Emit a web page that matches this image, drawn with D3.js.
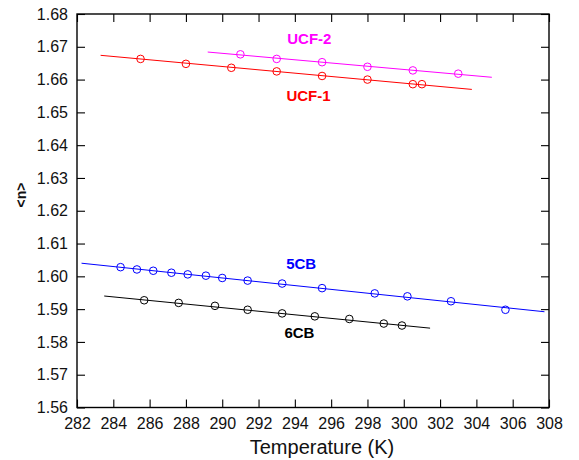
<!DOCTYPE html>
<html>
<head>
<meta charset="utf-8">
<script src="https://cdn.jsdelivr.net/npm/d3@7"></script>
<style>
  html, body { margin: 0; padding: 0; background: #fff; }
  svg { display: block; font-family: Arial, "Liberation Sans", Helvetica, sans-serif; }
</style>
</head>
<body>
<svg id="chart" width="579" height="460"></svg>
<script>
// Average refractive index <n> versus temperature for four liquid crystals.

// Axis ticks
const xTicks = [282, 284, 286, 288, 290, 292, 294, 296, 298, 300, 302, 304, 306, 308];
const yTicks = [1.56, 1.57, 1.58, 1.59, 1.60, 1.61, 1.62, 1.63, 1.64, 1.65, 1.66, 1.67, 1.68];

// UCF-2
const ucf2T = [291.0, 293.0, 295.5, 298.0, 300.5, 303.0];
const ucf2N = [1.6677, 1.6663, 1.6653, 1.6639, 1.6628, 1.6618];
const ucf2Fit = [[289.2, 1.6684], [304.85, 1.6607]];

// UCF-1
const ucf1T = [285.5, 288.0, 290.5, 293.0, 295.5, 298.0, 300.5, 301.0];
const ucf1N = [1.6663, 1.6648, 1.6636, 1.6625, 1.6611, 1.6600, 1.6586, 1.6586];
const ucf1Fit = [[283.3, 1.6674], [303.75, 1.6570]];

// 5CB
const cb5T = [284.4, 285.3, 286.2, 287.2, 288.1, 289.1, 290.0, 291.4, 293.3, 295.5, 298.4, 300.2, 302.6, 305.6];
const cb5N = [1.6028, 1.6021, 1.6017, 1.6011, 1.6006, 1.6002, 1.5995, 1.5987, 1.5978, 1.5964, 1.5948, 1.5939, 1.5924, 1.5898];
const cb5Fit = [[282.25, 1.6040], [307.75, 1.5892]];

// 6CB
const cb6T = [285.7, 287.6, 289.6, 291.4, 293.3, 295.1, 297.0, 298.9, 299.9];
const cb6N = [1.5927, 1.5919, 1.5910, 1.5898, 1.5887, 1.5878, 1.5870, 1.5856, 1.5850];
const cb6Fit = [[283.5, 1.5940], [301.45, 1.5842]];

const seriesNames = ["UCF-2", "UCF-1", "5CB", "6CB"];

const series = [
  { name: seriesNames[0], t: ucf2T, n: ucf2N, fit: ucf2Fit, color: "#ff00ff", label: [294.8, 1.6708] },
  { name: seriesNames[1], t: ucf1T, n: ucf1N, fit: ucf1Fit, color: "#ff0000", label: [294.75, 1.6535] },
  { name: seriesNames[2], t: cb5T, n: cb5N, fit: cb5Fit, color: "#0000ff", label: [294.35, 1.6021] },
  { name: seriesNames[3], t: cb6T, n: cb6N, fit: cb6Fit, color: "#000000", label: [294.25, 1.5812] }
];

const svg = d3.select("#chart");
const plot = { left: 77, right: 549, top: 14, bottom: 407.5 };

const x = d3.scaleLinear().domain([282, 308]).range([plot.left, plot.right]);
const y = d3.scaleLinear().domain([1.56, 1.68]).range([plot.bottom, plot.top]);

const tickLen = 8;

// Bottom axis with labels, ticks pointing inward
const gBottom = svg.append("g")
  .attr("transform", `translate(0,${plot.bottom})`)
  .call(d3.axisBottom(x).tickValues(xTicks).tickFormat(d3.format("d"))
    .tickSizeInner(-tickLen).tickSizeOuter(0).tickPadding(10));

// Left axis with labels
const gLeft = svg.append("g")
  .attr("transform", `translate(${plot.left},0)`)
  .call(d3.axisLeft(y).tickValues(yTicks).tickFormat(d3.format(".2f"))
    .tickSizeInner(-tickLen).tickSizeOuter(0).tickPadding(9));

// Top and right axes: ticks only
const gTop = svg.append("g")
  .attr("transform", `translate(0,${plot.top})`)
  .call(d3.axisTop(x).tickValues(xTicks).tickFormat("")
    .tickSizeInner(-tickLen).tickSizeOuter(0));

const gRight = svg.append("g")
  .attr("transform", `translate(${plot.right},0)`)
  .call(d3.axisRight(y).tickValues(yTicks).tickFormat("")
    .tickSizeInner(-tickLen).tickSizeOuter(0));

[gBottom, gLeft, gTop, gRight].forEach(g => {
  g.select(".domain").remove();
  g.selectAll(".tick line").attr("stroke", "#000").attr("stroke-width", 1.1);
  g.selectAll(".tick text")
    .attr("fill", "#111")
    .style("font-size", "16px")
    .style("font-family", "Arial, 'Liberation Sans', sans-serif");
});

// Plot frame
svg.append("rect")
  .attr("x", plot.left).attr("y", plot.top)
  .attr("width", plot.right - plot.left).attr("height", plot.bottom - plot.top)
  .attr("fill", "none").attr("stroke", "#000").attr("stroke-width", 1.4);

// Fitted lines, data points and series labels
const line = d3.line().x(d => x(d[0])).y(d => y(d[1]));

series.forEach(s => {
  svg.append("path")
    .datum(s.fit)
    .attr("d", line)
    .attr("fill", "none")
    .attr("stroke", s.color)
    .attr("stroke-width", 1);

  svg.append("g")
    .selectAll("circle")
    .data(s.t.map((t, i) => [t, s.n[i]]))
    .join("circle")
    .attr("cx", d => x(d[0]))
    .attr("cy", d => y(d[1]))
    .attr("r", 3.8)
    .attr("fill", "none")
    .attr("stroke", s.color)
    .attr("stroke-width", 1);

  svg.append("text")
    .attr("x", x(s.label[0]))
    .attr("y", y(s.label[1]))
    .attr("text-anchor", "middle")
    .attr("fill", s.color)
    .style("font-size", "15px")
    .style("font-weight", "bold")
    .text(s.name);
});

// Axis titles
svg.append("text")
  .attr("x", 322)
  .attr("y", 454)
  .attr("text-anchor", "middle")
  .attr("fill", "#111")
  .style("font-size", "20px")
  .text("Temperature (K)");

svg.append("text")
  .attr("transform", "translate(26,195) rotate(-90)")
  .attr("text-anchor", "middle")
  .attr("fill", "#111")
  .style("font-size", "14px")
  .style("font-weight", "bold")
  .text("<n>");
</script>
</body>
</html>
